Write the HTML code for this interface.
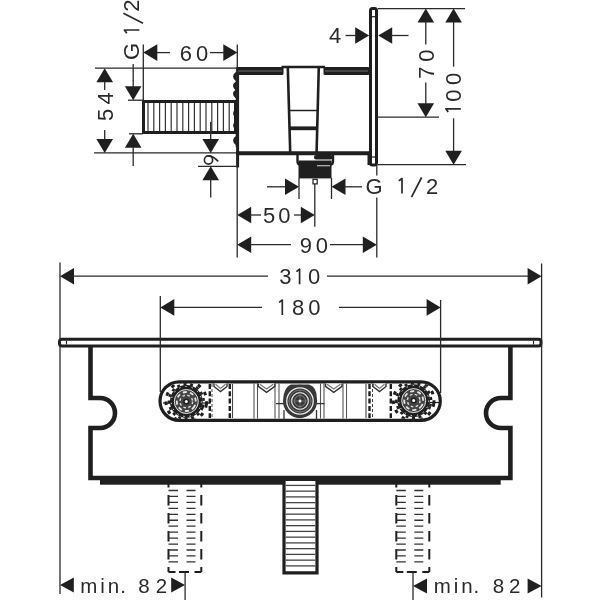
<!DOCTYPE html>
<html><head><meta charset="utf-8"><title>Drawing</title>
<style>html,body{margin:0;padding:0;background:#fff;width:600px;height:600px;overflow:hidden}svg{display:block;filter:grayscale(1)}</style>
</head><body>
<svg width="600" height="600" viewBox="0 0 600 600">
<defs><clipPath id="slotclip"><rect x="161.6" y="383.4" width="277.1" height="35.4" rx="17.7"/></clipPath></defs>
<rect width="600" height="600" fill="#fff"/>
<rect x="143.5" y="101.5" width="92" height="31" fill="none" stroke="#1f1f1f" stroke-width="3"/>
<line x1="148.0" y1="103" x2="148.0" y2="131" stroke="#333" stroke-width="1.2" />
<line x1="153.8" y1="103" x2="153.8" y2="131" stroke="#333" stroke-width="1.2" />
<line x1="159.6" y1="103" x2="159.6" y2="131" stroke="#333" stroke-width="1.2" />
<line x1="165.4" y1="103" x2="165.4" y2="131" stroke="#333" stroke-width="1.2" />
<line x1="171.2" y1="103" x2="171.2" y2="131" stroke="#333" stroke-width="1.2" />
<line x1="177.0" y1="103" x2="177.0" y2="131" stroke="#333" stroke-width="1.2" />
<line x1="182.8" y1="103" x2="182.8" y2="131" stroke="#333" stroke-width="1.2" />
<line x1="188.6" y1="103" x2="188.6" y2="131" stroke="#333" stroke-width="1.2" />
<line x1="194.4" y1="103" x2="194.4" y2="131" stroke="#333" stroke-width="1.2" />
<line x1="200.2" y1="103" x2="200.2" y2="131" stroke="#333" stroke-width="1.2" />
<line x1="206.0" y1="103" x2="206.0" y2="131" stroke="#333" stroke-width="1.2" />
<line x1="211.8" y1="103" x2="211.8" y2="131" stroke="#333" stroke-width="1.2" />
<line x1="217.6" y1="103" x2="217.6" y2="131" stroke="#333" stroke-width="1.2" />
<line x1="223.4" y1="103" x2="223.4" y2="131" stroke="#333" stroke-width="1.2" />
<line x1="229.2" y1="103" x2="229.2" y2="131" stroke="#333" stroke-width="1.2" />
<path d="M236.5,72 L236.5,72.5 Q231.2,76.5 236.5,80.5 L236.5,82 Q231.2,86 236.5,90 L236.5,90 Q231.2,94 236.5,98 L236.5,109.5 Q231.2,113.5 236.5,117.5 L236.5,121.5 Q231.2,125.5 236.5,129.5 L236.5,136.5 Q231.2,140.5 236.5,144.5 L236.5,147" stroke="#1f1f1f" stroke-width="1.6" fill="#1f1f1f"/>
<line x1="237.6" y1="67" x2="237.6" y2="167.5" stroke="#1f1f1f" stroke-width="3" />
<rect x="237" y="67" width="46.5" height="8" rx="1.5" fill="#1f1f1f"/>
<line x1="238" y1="71" x2="282" y2="71" stroke="#6a6a6a" stroke-width="1.2"/>
<rect x="323.5" y="67" width="46" height="8" rx="1.5" fill="#1f1f1f"/>
<line x1="325" y1="71" x2="368" y2="71" stroke="#6a6a6a" stroke-width="1.2"/>
<line x1="281.5" y1="67" x2="325" y2="67" stroke="#1f1f1f" stroke-width="2.6" />
<line x1="287.8" y1="67" x2="290.2" y2="152" stroke="#1f1f1f" stroke-width="2.6" />
<line x1="318.8" y1="67" x2="316.6" y2="152" stroke="#1f1f1f" stroke-width="2.6" />
<line x1="290" y1="110.5" x2="317" y2="110.5" stroke="#1f1f1f" stroke-width="1.5" />
<line x1="290" y1="128.3" x2="317" y2="128.3" stroke="#1f1f1f" stroke-width="3.8" />
<line x1="236" y1="153.2" x2="369" y2="153.2" stroke="#1f1f1f" stroke-width="4" />
<rect x="370.5" y="8.5" width="6" height="156.5" rx="2" fill="none" stroke="#1f1f1f" stroke-width="3"/>
<line x1="372" y1="16.7" x2="375" y2="16.7" stroke="#1f1f1f" stroke-width="1.2" />
<line x1="372" y1="157" x2="375" y2="157" stroke="#1f1f1f" stroke-width="1.2" />
<rect x="367.5" y="152" width="3" height="13" fill="#1f1f1f"/>
<path d="M297.5,155 V161 Q297.5,164.5 300,164.5 H330.5 Q333,164.5 333,161 V155" fill="none" stroke="#1f1f1f" stroke-width="2.4"/>
<rect x="314" y="155" width="18.5" height="4.5" rx="2" fill="#1f1f1f"/>
<rect x="298.5" y="160.5" width="33" height="17.8" fill="#1f1f1f"/>
<line x1="317" y1="165.7" x2="330" y2="165.7" stroke="#bbb" stroke-width="1.2" />
<line x1="299.5" y1="178.6" x2="330.5" y2="178.6" stroke="#999" stroke-width="0.8" />
<rect x="313" y="179.3" width="4.2" height="4.6" fill="#fff" stroke="#1f1f1f" stroke-width="1.2"/>
<line x1="95" y1="68.2" x2="237" y2="68.2" stroke="#2a2a2a" stroke-width="1.3" />
<line x1="94" y1="152.9" x2="236" y2="152.9" stroke="#2a2a2a" stroke-width="1.3" />
<polygon points="104.70,68.20 96.40,82.20 113.00,82.20" fill="#1f1f1f"/>
<line x1="104.7" y1="82" x2="104.7" y2="90" stroke="#2a2a2a" stroke-width="1.3" />
<polygon points="104.70,152.90 96.40,138.90 113.00,138.90" fill="#1f1f1f"/>
<line x1="104.7" y1="139" x2="104.7" y2="130" stroke="#2a2a2a" stroke-width="1.3" />
<line x1="128" y1="100.2" x2="143" y2="100.2" stroke="#2a2a2a" stroke-width="1.3" />
<line x1="129" y1="133.8" x2="143" y2="133.8" stroke="#2a2a2a" stroke-width="1.3" />
<line x1="133.2" y1="64" x2="133.2" y2="87" stroke="#2a2a2a" stroke-width="1.3" />
<polygon points="133.20,100.20 124.90,86.20 141.50,86.20" fill="#1f1f1f"/>
<polygon points="133.20,133.80 124.90,147.80 141.50,147.80" fill="#1f1f1f"/>
<line x1="133.2" y1="147" x2="133.2" y2="166" stroke="#2a2a2a" stroke-width="1.3" />
<line x1="143.3" y1="44.5" x2="143.3" y2="100" stroke="#2a2a2a" stroke-width="1.3" />
<line x1="237.3" y1="44.5" x2="237.3" y2="67" stroke="#2a2a2a" stroke-width="1.3" />
<polygon points="143.30,52.60 157.30,44.30 157.30,60.90" fill="#1f1f1f"/>
<line x1="157" y1="52.6" x2="170" y2="52.6" stroke="#2a2a2a" stroke-width="1.3" />
<polygon points="237.30,52.60 223.30,44.30 223.30,60.90" fill="#1f1f1f"/>
<line x1="210" y1="52.6" x2="224" y2="52.6" stroke="#2a2a2a" stroke-width="1.3" />
<line x1="210.7" y1="122" x2="210.7" y2="140" stroke="#2a2a2a" stroke-width="1.3" />
<polygon points="210.70,152.90 202.40,138.90 219.00,138.90" fill="#1f1f1f"/>
<line x1="198" y1="166.3" x2="236" y2="166.3" stroke="#2a2a2a" stroke-width="1.3" />
<polygon points="210.70,166.30 202.40,180.30 219.00,180.30" fill="#1f1f1f"/>
<line x1="210.7" y1="179" x2="210.7" y2="197.5" stroke="#2a2a2a" stroke-width="1.3" />
<polygon points="369.20,35.50 355.20,27.20 355.20,43.80" fill="#1f1f1f"/>
<line x1="345.5" y1="35.5" x2="356" y2="35.5" stroke="#2a2a2a" stroke-width="1.3" />
<polygon points="378.20,35.50 392.20,27.20 392.20,43.80" fill="#1f1f1f"/>
<line x1="391" y1="35.5" x2="408.5" y2="35.5" stroke="#2a2a2a" stroke-width="1.3" />
<line x1="378" y1="8.6" x2="465" y2="8.6" stroke="#2a2a2a" stroke-width="1.3" />
<line x1="378" y1="117.2" x2="439" y2="117.2" stroke="#2a2a2a" stroke-width="1.3" />
<line x1="378" y1="164.7" x2="466" y2="164.7" stroke="#2a2a2a" stroke-width="1.3" />
<polygon points="425.80,8.60 417.50,22.60 434.10,22.60" fill="#1f1f1f"/>
<line x1="425.8" y1="22" x2="425.8" y2="44.5" stroke="#2a2a2a" stroke-width="1.3" />
<line x1="425.8" y1="82.5" x2="425.8" y2="104" stroke="#2a2a2a" stroke-width="1.3" />
<polygon points="425.80,117.20 417.50,103.20 434.10,103.20" fill="#1f1f1f"/>
<polygon points="453.60,8.60 445.30,22.60 461.90,22.60" fill="#1f1f1f"/>
<line x1="453.6" y1="22" x2="453.6" y2="66.7" stroke="#2a2a2a" stroke-width="1.3" />
<line x1="453.6" y1="118.3" x2="453.6" y2="152" stroke="#2a2a2a" stroke-width="1.3" />
<polygon points="453.60,164.70 445.30,150.70 461.90,150.70" fill="#1f1f1f"/>
<line x1="299" y1="178" x2="299" y2="199" stroke="#2a2a2a" stroke-width="1.3" />
<line x1="331.5" y1="178" x2="331.5" y2="199" stroke="#2a2a2a" stroke-width="1.3" />
<line x1="267" y1="186.8" x2="286" y2="186.8" stroke="#2a2a2a" stroke-width="1.3" />
<polygon points="299.00,186.80 285.00,178.50 285.00,195.10" fill="#1f1f1f"/>
<polygon points="331.50,186.80 345.50,178.50 345.50,195.10" fill="#1f1f1f"/>
<line x1="344" y1="186.8" x2="362" y2="186.8" stroke="#2a2a2a" stroke-width="1.3" />
<line x1="376.8" y1="165" x2="376.8" y2="175.5" stroke="#2a2a2a" stroke-width="1.3" />
<line x1="376.8" y1="197.5" x2="376.8" y2="257.5" stroke="#2a2a2a" stroke-width="1.3" />
<line x1="237.2" y1="167" x2="237.2" y2="257.5" stroke="#2a2a2a" stroke-width="1.3" />
<line x1="314.8" y1="184" x2="314.8" y2="226.7" stroke="#2a2a2a" stroke-width="1.3" />
<polygon points="237.20,215.00 251.20,206.70 251.20,223.30" fill="#1f1f1f"/>
<line x1="250" y1="215" x2="261" y2="215" stroke="#2a2a2a" stroke-width="1.3" />
<line x1="294" y1="215" x2="301" y2="215" stroke="#2a2a2a" stroke-width="1.3" />
<polygon points="314.80,215.00 300.80,206.70 300.80,223.30" fill="#1f1f1f"/>
<polygon points="237.20,244.70 251.20,236.40 251.20,253.00" fill="#1f1f1f"/>
<line x1="250" y1="244.7" x2="291" y2="244.7" stroke="#2a2a2a" stroke-width="1.3" />
<line x1="330" y1="244.7" x2="363" y2="244.7" stroke="#2a2a2a" stroke-width="1.3" />
<polygon points="376.80,244.70 362.80,236.40 362.80,253.00" fill="#1f1f1f"/>
<rect x="59.5" y="339.3" width="481.5" height="6.8" rx="2.5" fill="none" stroke="#1f1f1f" stroke-width="3"/>
<line x1="66.5" y1="341" x2="66.5" y2="344.5" stroke="#1f1f1f" stroke-width="1.1" />
<line x1="533.5" y1="341" x2="533.5" y2="344.5" stroke="#1f1f1f" stroke-width="1.1" />
<path d="M90.5,347 V398 H100 A15,15 0 0 1 100,428 H90.5 V478 H510.4 V428 H501 A15,15 0 0 1 501,398 H510.4 V347" fill="none" stroke="#1f1f1f" stroke-width="4.6" stroke-linejoin="miter"/>
<rect x="100" y="476" width="400.7" height="8.7" fill="#1f1f1f"/>
<rect x="160" y="381.8" width="280.3" height="38.6" rx="19.3" fill="none" stroke="#1f1f1f" stroke-width="3.2"/>
<line x1="60" y1="262.5" x2="60" y2="594" stroke="#2a2a2a" stroke-width="1.3" />
<line x1="541.6" y1="263.5" x2="541.6" y2="597.5" stroke="#2a2a2a" stroke-width="1.3" />
<line x1="160.3" y1="296" x2="160.3" y2="392" stroke="#2a2a2a" stroke-width="1.3" />
<line x1="440.6" y1="300" x2="440.6" y2="393" stroke="#2a2a2a" stroke-width="1.3" />
<polygon points="60.00,276.20 74.00,267.90 74.00,284.50" fill="#1f1f1f"/>
<line x1="74" y1="276.2" x2="268" y2="276.2" stroke="#2a2a2a" stroke-width="1.3" />
<line x1="327" y1="276.2" x2="528" y2="276.2" stroke="#2a2a2a" stroke-width="1.3" />
<polygon points="541.60,276.20 527.60,267.90 527.60,284.50" fill="#1f1f1f"/>
<polygon points="160.30,307.40 174.30,299.10 174.30,315.70" fill="#1f1f1f"/>
<line x1="174" y1="307.4" x2="262" y2="307.4" stroke="#2a2a2a" stroke-width="1.3" />
<line x1="339" y1="307.4" x2="427" y2="307.4" stroke="#2a2a2a" stroke-width="1.3" />
<polygon points="440.60,307.40 426.60,299.10 426.60,315.70" fill="#1f1f1f"/>
<polygon points="60.00,585.00 73.80,577.50 73.80,592.50" fill="#1f1f1f"/>
<polygon points="185.00,585.00 171.20,577.50 171.20,592.50" fill="#1f1f1f"/>
<polygon points="413.00,586.00 427.00,578.50 427.00,593.50" fill="#1f1f1f"/>
<polygon points="541.60,586.00 527.60,578.50 527.60,593.50" fill="#1f1f1f"/>
<line x1="185.1" y1="571" x2="185.1" y2="600" stroke="#2a2a2a" stroke-width="1.3" />
<line x1="413" y1="571" x2="413" y2="600" stroke="#2a2a2a" stroke-width="1.3" />
<rect x="284" y="481" width="32.8" height="92" fill="#fff" stroke="none"/>
<path d="M284,476 V572.8 H317 V476" fill="none" stroke="#1f1f1f" stroke-width="3.2"/>
<line x1="285.6" y1="485.4" x2="315.4" y2="485.4" stroke="#444" stroke-width="1.3" />
<line x1="285.6" y1="491.15" x2="315.4" y2="491.15" stroke="#444" stroke-width="1.3" />
<line x1="285.6" y1="496.9" x2="315.4" y2="496.9" stroke="#444" stroke-width="1.3" />
<line x1="285.6" y1="502.65" x2="315.4" y2="502.65" stroke="#444" stroke-width="1.3" />
<line x1="285.6" y1="508.4" x2="315.4" y2="508.4" stroke="#444" stroke-width="1.3" />
<line x1="285.6" y1="514.15" x2="315.4" y2="514.15" stroke="#444" stroke-width="1.3" />
<line x1="285.6" y1="519.9" x2="315.4" y2="519.9" stroke="#444" stroke-width="1.3" />
<line x1="285.6" y1="525.65" x2="315.4" y2="525.65" stroke="#444" stroke-width="1.3" />
<line x1="285.6" y1="531.4" x2="315.4" y2="531.4" stroke="#444" stroke-width="1.3" />
<line x1="285.6" y1="537.15" x2="315.4" y2="537.15" stroke="#444" stroke-width="1.3" />
<line x1="285.6" y1="542.9" x2="315.4" y2="542.9" stroke="#444" stroke-width="1.3" />
<line x1="285.6" y1="548.65" x2="315.4" y2="548.65" stroke="#444" stroke-width="1.3" />
<line x1="285.6" y1="554.4" x2="315.4" y2="554.4" stroke="#444" stroke-width="1.3" />
<line x1="285.6" y1="560.15" x2="315.4" y2="560.15" stroke="#444" stroke-width="1.3" />
<line x1="285.6" y1="565.9" x2="315.4" y2="565.9" stroke="#444" stroke-width="1.3" />
<path d="M168.5,484 V572 M201.3,484 V572" fill="none" stroke="#1f1f1f" stroke-width="2" stroke-dasharray="10.5 7.5" stroke-dashoffset="7"/>
<path d="M168.5,572 H201.3" fill="none" stroke="#1f1f1f" stroke-width="2" stroke-dasharray="7 3.5 10 5.5 7"/>
<path d="M168.5,490.50 H178.0 M186.5,490.50 H195.5" stroke="#333" stroke-width="1.3"/>
<path d="M168.5,496.45 H178.0 M186.5,496.45 H195.5" stroke="#333" stroke-width="1.3"/>
<path d="M168.5,502.40 H178.0 M186.5,502.40 H195.5" stroke="#333" stroke-width="1.3"/>
<path d="M168.5,508.35 H178.0 M186.5,508.35 H195.5" stroke="#333" stroke-width="1.3"/>
<path d="M168.5,514.30 H178.0 M186.5,514.30 H195.5" stroke="#333" stroke-width="1.3"/>
<path d="M168.5,520.25 H178.0 M186.5,520.25 H195.5" stroke="#333" stroke-width="1.3"/>
<path d="M168.5,526.20 H178.0 M186.5,526.20 H195.5" stroke="#333" stroke-width="1.3"/>
<path d="M168.5,532.15 H178.0 M186.5,532.15 H195.5" stroke="#333" stroke-width="1.3"/>
<path d="M168.5,538.10 H178.0 M186.5,538.10 H195.5" stroke="#333" stroke-width="1.3"/>
<path d="M168.5,544.05 H178.0 M186.5,544.05 H195.5" stroke="#333" stroke-width="1.3"/>
<path d="M168.5,550.00 H178.0 M186.5,550.00 H195.5" stroke="#333" stroke-width="1.3"/>
<path d="M168.5,555.95 H178.0 M186.5,555.95 H195.5" stroke="#333" stroke-width="1.3"/>
<path d="M168.5,561.90 H178.0 M186.5,561.90 H195.5" stroke="#333" stroke-width="1.3"/>
<path d="M396.3,484 V572 M429.3,484 V572" fill="none" stroke="#1f1f1f" stroke-width="2" stroke-dasharray="10.5 7.5" stroke-dashoffset="7"/>
<path d="M396.3,572 H429.3" fill="none" stroke="#1f1f1f" stroke-width="2" stroke-dasharray="7 3.5 10 5.5 7"/>
<path d="M396.3,490.50 H405.8 M414.3,490.50 H423.3" stroke="#333" stroke-width="1.3"/>
<path d="M396.3,496.45 H405.8 M414.3,496.45 H423.3" stroke="#333" stroke-width="1.3"/>
<path d="M396.3,502.40 H405.8 M414.3,502.40 H423.3" stroke="#333" stroke-width="1.3"/>
<path d="M396.3,508.35 H405.8 M414.3,508.35 H423.3" stroke="#333" stroke-width="1.3"/>
<path d="M396.3,514.30 H405.8 M414.3,514.30 H423.3" stroke="#333" stroke-width="1.3"/>
<path d="M396.3,520.25 H405.8 M414.3,520.25 H423.3" stroke="#333" stroke-width="1.3"/>
<path d="M396.3,526.20 H405.8 M414.3,526.20 H423.3" stroke="#333" stroke-width="1.3"/>
<path d="M396.3,532.15 H405.8 M414.3,532.15 H423.3" stroke="#333" stroke-width="1.3"/>
<path d="M396.3,538.10 H405.8 M414.3,538.10 H423.3" stroke="#333" stroke-width="1.3"/>
<path d="M396.3,544.05 H405.8 M414.3,544.05 H423.3" stroke="#333" stroke-width="1.3"/>
<path d="M396.3,550.00 H405.8 M414.3,550.00 H423.3" stroke="#333" stroke-width="1.3"/>
<path d="M396.3,555.95 H405.8 M414.3,555.95 H423.3" stroke="#333" stroke-width="1.3"/>
<path d="M396.3,561.90 H405.8 M414.3,561.90 H423.3" stroke="#333" stroke-width="1.3"/>
<g clip-path="url(#slotclip)">
<circle cx="186.3" cy="401.5" r="20.3" fill="none" stroke="#1f1f1f" stroke-width="3" stroke-dasharray="3.5 6" transform="rotate(8 186.3 401.5)"/>
</g>
<circle cx="186.3" cy="401.5" r="17.4" fill="none" stroke="#1f1f1f" stroke-width="2.4" stroke-dasharray="3 3.6" transform="rotate(20 186.3 401.5)"/>
<circle cx="186.3" cy="401.5" r="14.4" fill="#444" stroke="#1f1f1f" stroke-width="4"/>
<circle cx="186.3" cy="401.5" r="15" fill="none" stroke="#fff" stroke-width="1" stroke-dasharray="1.3 5"/>
<circle cx="186.3" cy="401.5" r="12" fill="none" stroke="#eee" stroke-width="0.9"/>
<circle cx="186.3" cy="401.5" r="9.5" fill="none" stroke="#e6e6e6" stroke-width="1.8" stroke-dasharray="4 3.2" transform="rotate(30 186.3 401.5)"/>
<circle cx="186.3" cy="401.5" r="6.3" fill="none" stroke="#ddd" stroke-width="1.4" stroke-dasharray="2.6 2.4"/>
<circle cx="186.3" cy="401.5" r="3" fill="#1f1f1f"/>
<circle cx="186.3" cy="401.5" r="1.5" fill="#fff"/>
<g clip-path="url(#slotclip)">
<circle cx="413.7" cy="400.6" r="20.3" fill="none" stroke="#1f1f1f" stroke-width="3" stroke-dasharray="3.5 6" transform="rotate(8 413.7 400.6)"/>
</g>
<circle cx="413.7" cy="400.6" r="17.4" fill="none" stroke="#1f1f1f" stroke-width="2.4" stroke-dasharray="3 3.6" transform="rotate(20 413.7 400.6)"/>
<circle cx="413.7" cy="400.6" r="14.4" fill="#444" stroke="#1f1f1f" stroke-width="4"/>
<circle cx="413.7" cy="400.6" r="15" fill="none" stroke="#fff" stroke-width="1" stroke-dasharray="1.3 5"/>
<circle cx="413.7" cy="400.6" r="12" fill="none" stroke="#eee" stroke-width="0.9"/>
<circle cx="413.7" cy="400.6" r="9.5" fill="none" stroke="#e6e6e6" stroke-width="1.8" stroke-dasharray="4 3.2" transform="rotate(30 413.7 400.6)"/>
<circle cx="413.7" cy="400.6" r="6.3" fill="none" stroke="#ddd" stroke-width="1.4" stroke-dasharray="2.6 2.4"/>
<circle cx="413.7" cy="400.6" r="3" fill="#1f1f1f"/>
<circle cx="413.7" cy="400.6" r="1.5" fill="#fff"/>
<path d="M284,420 V410 M316.5,420 V410" stroke="#333" stroke-width="1.3"/>
<path d="M291,384.4 H309 Q317,387 316.8,398 A16.5,16.5 0 0 1 283.2,404 Q282.5,388 291,384.4 Z" fill="#383838"/>
<circle cx="300" cy="401" r="16.3" fill="#383838"/>
<circle cx="300" cy="401" r="13.2" fill="none" stroke="#eee" stroke-width="1.3"/>
<circle cx="300" cy="401" r="11" fill="none" stroke="#777" stroke-width="0.9"/>
<circle cx="300" cy="401" r="8.4" fill="none" stroke="#eee" stroke-width="1.2"/>
<circle cx="300" cy="401" r="5.5" fill="none" stroke="#888" stroke-width="0.9"/>
<path d="M287,401 H313 M300,388 V414" stroke="#777" stroke-width="0.7"/>
<circle cx="300" cy="401" r="1.5" fill="#fff"/>
<line x1="254" y1="383.5" x2="254" y2="418.5" stroke="#555" stroke-width="1.1" />
<line x1="257.5" y1="383.5" x2="257.5" y2="418.5" stroke="#555" stroke-width="1.1" />
<line x1="275" y1="383.5" x2="275" y2="418.5" stroke="#555" stroke-width="1.1" />
<line x1="279" y1="383.5" x2="279" y2="418.5" stroke="#555" stroke-width="1.1" />
<line x1="320.5" y1="383.5" x2="320.5" y2="418.5" stroke="#555" stroke-width="1.1" />
<line x1="324" y1="383.5" x2="324" y2="418.5" stroke="#555" stroke-width="1.1" />
<line x1="343" y1="383.5" x2="343" y2="418.5" stroke="#555" stroke-width="1.1" />
<line x1="346.5" y1="383.5" x2="346.5" y2="418.5" stroke="#555" stroke-width="1.1" />
<path d="M258.3,383.5 V386.3 L266.55,392.3 L274.8,386.3 V383.5" fill="#fff" stroke="#333" stroke-width="1.4"/>
<path d="M259.8,384.2 L266.55,389 L273.3,384.2" fill="none" stroke="#777" stroke-width="1.2"/>
<path d="M325.5,383.5 V386.3 L333.75,392.3 L342,386.3 V383.5" fill="#fff" stroke="#333" stroke-width="1.4"/>
<path d="M327.0,384.2 L333.75,389 L340.5,384.2" fill="none" stroke="#777" stroke-width="1.2"/>
<path d="M214,383.5 V386.5 L220.5,391.5 L227,386.5 V383.5" fill="#fff" stroke="#333" stroke-width="1.4"/>
<path d="M215.5,384.2 L220.5,388.5 L225.5,384.2" fill="none" stroke="#777" stroke-width="1.2"/>
<path d="M373,383.5 V386.5 L379.5,391.5 L386,386.5 V383.5" fill="#fff" stroke="#333" stroke-width="1.4"/>
<path d="M374.5,384.2 L379.5,388.5 L384.5,384.2" fill="none" stroke="#777" stroke-width="1.2"/>
<line x1="276" y1="403.6" x2="284" y2="403.6" stroke="#333" stroke-width="1.3" />
<line x1="316.5" y1="403.6" x2="324.5" y2="403.6" stroke="#333" stroke-width="1.3" />
<path d="M209.8,384 V418" stroke="#1f1f1f" stroke-width="2.4" stroke-dasharray="5 2.3"/>
<path d="M229.8,384 V418" stroke="#1f1f1f" stroke-width="2.4" stroke-dasharray="5 2.3"/>
<path d="M369.5,384 V418" stroke="#1f1f1f" stroke-width="2.4" stroke-dasharray="5 2.3"/>
<path d="M390.8,384 V418" stroke="#1f1f1f" stroke-width="2.4" stroke-dasharray="5 2.3"/>
<path d="M212,384 V418" stroke="#444" stroke-width="1" stroke-dasharray="3 2"/>
<path d="M372.5,384 V418" stroke="#444" stroke-width="1" stroke-dasharray="3 2"/>
<line x1="232.5" y1="384" x2="232.5" y2="418" stroke="#444" stroke-width="1.1" />
<line x1="366" y1="384" x2="366" y2="418" stroke="#444" stroke-width="1.1" />
<line x1="163" y1="403" x2="170" y2="403" stroke="#1f1f1f" stroke-width="1.2" />
<line x1="202" y1="403" x2="210" y2="403" stroke="#1f1f1f" stroke-width="1.2" />
<line x1="391" y1="402.5" x2="398" y2="402.5" stroke="#1f1f1f" stroke-width="1.2" />
<line x1="430" y1="402.5" x2="439" y2="402.5" stroke="#1f1f1f" stroke-width="1.2" />
<g font-family="&quot;Liberation Sans&quot;, sans-serif" font-size="22.0" fill="#2a2a2a" stroke="none">
<text x="179.68" y="60.80">6</text>
<text x="196.04" y="60.80">0</text>
<text x="329.00" y="43.00">4</text>
<text x="365.49" y="193.50">G</text>
<path d="M402.00,193.50 V178.50 L398.80,180.90" fill="none" stroke="#2a2a2a" stroke-width="1.7" stroke-linejoin="round"/>
<path d="M411.50,197.10 L421.60,177.50" fill="none" stroke="#2a2a2a" stroke-width="1.7"/>
<text x="425.89" y="193.50">2</text>
<text x="263.12" y="222.50">5</text>
<text x="278.14" y="222.50">0</text>
<text x="299.77" y="252.50">9</text>
<text x="315.64" y="252.50">0</text>
<text x="279.16" y="284.20">3</text>
<path d="M299.60,284.20 V269.20 L296.40,271.60" fill="none" stroke="#2a2a2a" stroke-width="1.7" stroke-linejoin="round"/>
<text x="307.94" y="284.20">0</text>
<path d="M282.30,315.00 V300.00 L279.10,302.40" fill="none" stroke="#2a2a2a" stroke-width="1.7" stroke-linejoin="round"/>
<text x="292.04" y="315.00">8</text>
<text x="308.14" y="315.00">0</text>
<text x="80.34" y="592.50" font-size="20.5">m</text>
<text x="100.33" y="592.50" font-size="20.5">i</text>
<text x="107.84" y="592.50" font-size="20.5">n</text>
<text x="120.13" y="592.50" font-size="20.5">.</text>
<text x="138.31" y="592.50" font-size="20.5">8</text>
<text x="155.67" y="592.50" font-size="20.5">2</text>
<text x="433.64" y="592.80" font-size="20.5">m</text>
<text x="453.63" y="592.80" font-size="20.5">i</text>
<text x="461.14" y="592.80" font-size="20.5">n</text>
<text x="473.43" y="592.80" font-size="20.5">.</text>
<text x="492.81" y="592.80" font-size="20.5">8</text>
<text x="508.97" y="592.80" font-size="20.5">2</text>
<g transform="translate(139.4,0) rotate(-90)">
<text x="-60.11" y="0">G</text>
<path d="M-30.00,0.00 V-15.00 L-33.20,-12.60" fill="none" stroke="#2a2a2a" stroke-width="1.7" stroke-linejoin="round"/>
<path d="M-23.20,3.60 L-13.30,-16.00" fill="none" stroke="#2a2a2a" stroke-width="1.7"/>
<text x="-11.71" y="0">2</text>
</g>
<g transform="translate(112.5,0) rotate(-90)">
<text x="-120.88" y="0">5</text>
<text x="-104.50" y="0">4</text>
</g>
<g transform="translate(434,0) rotate(-90)">
<text x="-78.63" y="0">7</text>
<text x="-61.86" y="0">0</text>
</g>
<g transform="translate(460.8,0) rotate(-90)">
<path d="M-108.80,0.00 V-15.00 L-112.00,-12.60" fill="none" stroke="#2a2a2a" stroke-width="1.7" stroke-linejoin="round"/>
<text x="-101.66" y="0">0</text>
<text x="-85.06" y="0">0</text>
</g>
</g>
<circle cx="208.5" cy="160" r="4.1" fill="none" stroke="#2a2a2a" stroke-width="1.6"/>
<path d="M208.5,155.9 Q213,155.8 218.2,161.4" fill="none" stroke="#2a2a2a" stroke-width="1.6"/>
</svg>
</body></html>
